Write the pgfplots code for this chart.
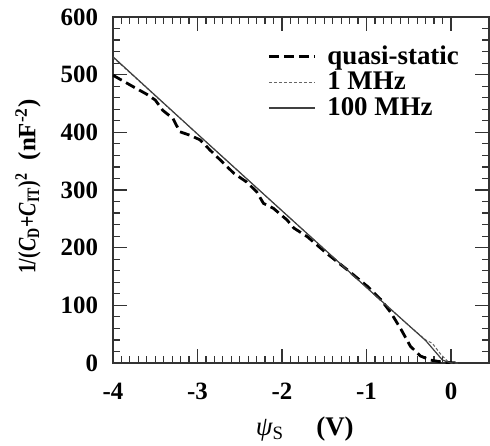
\documentclass[border=0pt]{standalone}
\usepackage{fontspec}
\setmainfont{Liberation Serif}
\usepackage{pgfplots}
\pgfplotsset{compat=1.18}

\begin{document}
\begin{tikzpicture}
\begin{axis}[
  scale only axis, width=188bp, height=173bp,
  xmin=-4, xmax=0.45, ymin=0, ymax=600,
  xtick={-4,-3,-2,-1,0}, minor x tick num=9,
  ytick={0,100,...,600}, minor y tick num=4,
  tick align=inside, tick pos=both,
  major tick length=7bp, minor tick length=3.5bp,
  axis line style={black!80, line width=0.8bp},
  every tick/.style={black!80, line width=0.6bp},
  /pgf/number format/assume math mode=true,
  tick label style={font=\fontsize{12.5}{14}\selectfont\bfseries},
  xticklabel style={yshift=-6.5bp},
  yticklabel style={xshift=-4bp},
  xlabel={{\itshape ψ}\textsubscript{S}\hspace{1.2em}{\bfseries (V)}},
  xlabel style={font=\fontsize{13.5}{15}\selectfont, at={(axis description cs:0.51,-0.19)}, anchor=center},
  ylabel={\bfseries\scalebox{0.8}[1]{1/(\textit{C}\textsubscript{D}+\textit{C}\textsubscript{IT})\textsuperscript{2}}\hspace{0.5em}(nF\textsuperscript{-2})},
  ylabel style={font=\fontsize{12.5}{15}\selectfont, at={(axis description cs:-0.226,0.51)}, anchor=center},
  legend style={draw=none, fill=none, at={(axis description cs:0.41,0.93)}, anchor=north west,
    font=\fontsize{13.5}{13}\selectfont\bfseries, row sep=-1.6bp, inner sep=0pt},
  legend cell align=left,
  legend image code/.code={\draw[#1] (0bp,0bp) -- (23bp,0bp); \path (26.5bp,0bp);},
]
\addplot[black, line width=1.4bp, dash pattern=on 5bp off 2.5bp] coordinates {
(-4.00,499)(-3.76,479)(-3.60,466)(-3.50,456)(-3.41,438)(-3.29,424)(-3.21,401)
(-3.09,395)(-2.97,387)(-2.85,369)(-2.73,352)(-2.57,329)(-2.42,314)(-2.30,297)
(-2.22,277)(-2.10,268)(-1.94,248)(-1.86,234)(-1.70,219)(-1.47,190)(-1.23,162)
(-0.99,133)(-0.83,110)(-0.71,87)(-0.59,58)(-0.48,29)(-0.36,12)(-0.24,5)
(-0.08,1)(0.08,0)};
\addlegendentry{quasi-static}
\addplot[black!60, line width=0.5bp, dash pattern=on 1.5bp off 1bp] coordinates {
(-4.00,530)(-3.00,397)(-2.00,264)(-1.00,131)(-0.50,65)(-0.30,40)(-0.22,34)
(-0.12,15)(-0.04,3)(0.00,0)(0.08,0)};
\addlegendentry{1 MHz}
\addplot[black!75, line width=0.6bp] coordinates {
(-4.00,531)(-3.00,397)(-2.00,264)(-1.00,131)(-0.30,39)(-0.10,5)(0.00,0)(0.08,0)};
\addlegendentry{100 MHz}
\end{axis}
\pgfresetboundingbox
\path[use as bounding box] ([shift={(-56.5bp,-41.5bp)}]current axis.south west) rectangle ([shift={(0.5bp,8.5bp)}]current axis.north east);
\end{tikzpicture}
\end{document}
